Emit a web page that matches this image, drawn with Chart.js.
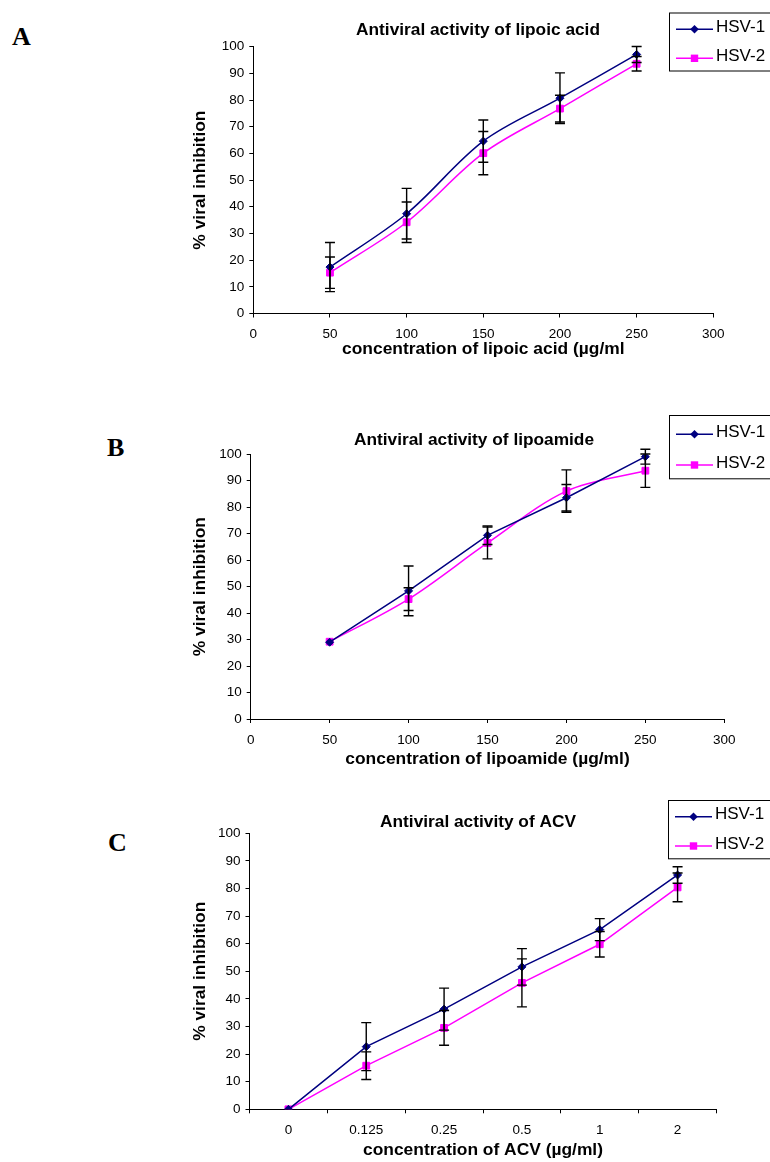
<!DOCTYPE html>
<html>
<head>
<meta charset="utf-8">
<script src="https://cdn.jsdelivr.net/npm/chart.js@4.4.1/dist/chart.umd.min.js"></script>
<style>
  html, body { margin: 0; padding: 0; background: #fff; }
  #wrap { position: relative; width: 770px; height: 1162px; overflow: hidden; background: #fff; }
  canvas { position: absolute; left: 0; }
  .letter { position: absolute; font-family: "Liberation Serif", "Times New Roman", serif; font-weight: bold; font-size: 26px; line-height: 1; color: #000; }
</style>
</head>
<body>
<div id="wrap">
  <div class="letter" style="left:12px; top:24px;">A</div>
  <div class="letter" style="left:107px; top:435px;">B</div>
  <div class="letter" style="left:108px; top:830px;">C</div>
  <canvas id="cA" width="770" height="390" style="top:0px"></canvas>
  <canvas id="cB" width="770" height="390" style="top:390px"></canvas>
  <canvas id="cC" width="770" height="382" style="top:780px"></canvas>
</div>
<script>
// ---------- DATA ----------
const seriesNames = ['HSV-1', 'HSV-2'];

// Panel A: lipoic acid
const concA = [50, 100, 150, 200, 250];
const hsv1A = [17.4, 37.4, 64.6, 80.7, 97.1];
const err1A = [9.2, 9.5, 7.9, 9.5, 3.0];
const hsv2A = [15.3, 34.2, 60.1, 76.8, 93.6];
const err2A = [5.9, 7.6, 8.1, 5.0, 2.7];

// Panel B: lipoamide
const concB = [50, 100, 150, 200, 250];
const hsv1B = [29.0, 48.4, 69.4, 83.6, 99.1];
const err1B = [0, 9.4, 3.5, 5.0, 2.8];
const hsv2B = [29.2, 45.3, 66.5, 86.1, 93.8];
const err2B = [0, 4.3, 6.0, 8.0, 6.3];

// Panel C: ACV (categorical)
const concC = ['0', '0.125', '0.25', '0.5', '1', '2'];
const hsv1C = [0, 22.7, 36.3, 51.6, 65.1, 84.9];
const err1C = [0, 8.7, 7.6, 6.6, 4.0, 3.0];
const hsv2C = [0, 15.8, 29.5, 45.8, 59.8, 80.4];
const err2C = [0, 5.0, 6.3, 8.7, 4.6, 5.2];

const titles = ['Antiviral activity of lipoic acid', 'Antiviral activity of lipoamide', 'Antiviral activity of ACV'];
const xTitles = ['concentration of lipoic acid (\u00b5g/ml', 'concentration of lipoamide (\u00b5g/ml)', 'concentration of ACV (\u00b5g/ml)'];
const yTitle = '% viral inhibition';

// ---------- STYLE ----------
const FONT = '"Liberation Sans", Arial, Helvetica, sans-serif';
const NAVY = '#000080';
const MAGENTA = '#FF00FF';
const TICK_SIZE = 13.5;
const AXIS_TITLE_SIZE = 17.4;
const TITLE_SIZE = 17.3;

function xy(xs, ys) { return xs.map((x, i) => ({ x: x, y: ys[i] })); }

const errorBarPlugin = {
  id: 'errorBars',
  afterDatasetsDraw(chart) {
    const ctx = chart.ctx;
    const ys = chart.scales.y;
    ctx.save();
    ctx.strokeStyle = '#000';
    ctx.lineWidth = 1.4;
    chart.data.datasets.forEach((ds, di) => {
      const meta = chart.getDatasetMeta(di);
      if (!ds.errorBars) return;
      meta.data.forEach((pt, i) => {
        const e = ds.errorBars[i];
        if (!e) return;
        const v = ds.data[i] && typeof ds.data[i] === 'object' ? ds.data[i].y : ds.data[i];
        const yt = ys.getPixelForValue(v + e);
        const yb = ys.getPixelForValue(v - e);
        const x = pt.x;
        const cw = 5;
        ctx.beginPath();
        ctx.moveTo(x, yt); ctx.lineTo(x, yb);
        ctx.moveTo(x - cw, yt); ctx.lineTo(x + cw, yt);
        ctx.moveTo(x - cw, yb); ctx.lineTo(x + cw, yb);
        ctx.stroke();
      });
    });
    ctx.restore();
  }
};

const panelTextPlugin = {
  id: 'panelText',
  afterDraw(chart, args, opts) {
    const ctx = chart.ctx;
    ctx.save();
    // title
    ctx.fillStyle = '#000';
    ctx.font = 'bold ' + TITLE_SIZE + 'px ' + FONT;
    ctx.textAlign = 'center';
    ctx.textBaseline = 'middle';
    ctx.fillText(opts.title, opts.titleX, opts.titleY);
    // legend box
    const L = opts.legend;
    ctx.strokeStyle = '#000';
    ctx.lineWidth = 1;
    ctx.strokeRect(L.left + 0.5, L.top + 0.5, 200, L.bottom - L.top);
    chart.data.datasets.forEach((ds, i) => {
      const y = L.rows[i];
      ctx.strokeStyle = ds.borderColor;
      ctx.lineWidth = 1.5;
      ctx.beginPath();
      ctx.moveTo(L.left + 7, y); ctx.lineTo(L.left + 44, y);
      ctx.stroke();
      const cx = L.left + 25.5;
      ctx.fillStyle = ds.borderColor;
      ctx.beginPath();
      if (ds.pointStyle === 'rectRot') {
        const r = 4.3;
        ctx.moveTo(cx, y - r); ctx.lineTo(cx + r, y); ctx.lineTo(cx, y + r); ctx.lineTo(cx - r, y);
        ctx.closePath();
      } else {
        ctx.rect(cx - 3.7, y - 3.7, 7.4, 7.4);
      }
      ctx.fill();
      ctx.fillStyle = '#000';
      ctx.font = '17px ' + FONT;
      ctx.textAlign = 'left';
      ctx.textBaseline = 'middle';
      ctx.fillText(seriesNames[i], L.left + 47, y - 2);
    });
    ctx.restore();
  }
};

function makeChart(id, cfg) {
  const isCat = cfg.type === 'category';
  const d1 = isCat ? cfg.y1 : xy(cfg.x, cfg.y1);
  const d2 = isCat ? cfg.y2 : xy(cfg.x, cfg.y2);
  const common = {
    border: { display: true, color: '#000', width: 1 },
    title: { display: true, text: cfg.xTitle, color: '#000', font: { family: FONT, size: AXIS_TITLE_SIZE, weight: 'bold' }, padding: 0 },
    afterFit: s => { s.height = cfg.xH; }
  };
  const xScale = isCat ? Object.assign({
    type: 'category',
    offset: true,
    grid: { offset: true, drawOnChartArea: false, drawTicks: true, tickLength: 4, color: '#000', lineWidth: 1 },
    ticks: { color: '#000', font: { family: FONT, size: TICK_SIZE }, padding: 9, maxRotation: 0, autoSkip: false }
  }, common) : Object.assign({
    type: 'linear',
    min: 0, max: 300,
    grid: { drawOnChartArea: false, drawTicks: true, tickLength: 4, color: '#000', lineWidth: 1 },
    ticks: { stepSize: 50, color: '#000', font: { family: FONT, size: TICK_SIZE }, padding: 9, maxRotation: 0 }
  }, common);
  return new Chart(document.getElementById(id), {
    type: 'line',
    data: {
      labels: isCat ? cfg.x : undefined,
      datasets: [
        { label: seriesNames[0], data: d1, errorBars: cfg.e1, borderColor: NAVY, backgroundColor: NAVY,
          borderWidth: 1.5, pointStyle: 'rectRot', pointRadius: 4, pointBorderWidth: 1,
          tension: cfg.t1, fill: false },
        { label: seriesNames[1], data: d2, errorBars: cfg.e2, borderColor: MAGENTA, backgroundColor: MAGENTA,
          borderWidth: 1.5, pointStyle: 'rect', pointRadius: 4.8, pointBorderWidth: 1,
          tension: cfg.t2, fill: false }
      ]
    },
    options: {
      responsive: false,
      animation: false,
      events: [],
      layout: { padding: cfg.pad },
      scales: {
        x: xScale,
        y: {
          type: 'linear', min: 0, max: 100,
          grid: { drawOnChartArea: false, drawTicks: true, tickLength: 4, color: '#000', lineWidth: 1 },
          border: { display: true, color: '#000', width: 1 },
          ticks: { stepSize: 10, color: '#000', font: { family: FONT, size: TICK_SIZE }, padding: 5 },
          title: { display: true, text: yTitle, color: '#000', font: { family: FONT, size: AXIS_TITLE_SIZE, weight: 'bold' }, padding: 0 },
          afterFit: s => { s.width = cfg.yW; }
        }
      },
      plugins: {
        legend: { display: false },
        title: { display: false },
        tooltip: { enabled: false },
        panelText: cfg.text
      }
    },
    plugins: [errorBarPlugin, panelTextPlugin]
  });
}

makeChart('cA', {
  type: 'linear', x: concA, y1: hsv1A, y2: hsv2A, e1: err1A, e2: err2A, t1: 0.33, t2: 0.33,
  xTitle: xTitles[0], xH: 46, yW: 63.8,
  pad: { top: 46.7, left: 189.5, right: 56.7, bottom: 30.5 },
  text: { title: titles[0], titleX: 478, titleY: 30,
          legend: { left: 669, top: 12.5, bottom: 70.5, rows: [29.3, 58.3] } }
});

makeChart('cB', {
  type: 'linear', x: concB, y1: hsv1B, y2: hsv2B, e1: err1B, e2: err2B, t1: 0, t2: 0.33,
  xTitle: xTitles[1], xH: 50.5, yW: 61.2,
  pad: { top: 64.3, left: 189.5, right: 45.7, bottom: 10.5 },
  text: { title: titles[1], titleX: 474, titleY: 50,
          legend: { left: 669, top: 25, bottom: 88.3, rows: [44.3, 75] } }
});

makeChart('cC', {
  type: 'category', x: concC, y1: hsv1C, y2: hsv2C, e1: err1C, e2: err2C, t1: 0, t2: 0,
  xTitle: xTitles[2], xH: 51.2, yW: 60,
  pad: { top: 53.3, left: 189.5, right: 53.5, bottom: 1.5 },
  text: { title: titles[2], titleX: 478, titleY: 42,
          legend: { left: 668, top: 20, bottom: 78.3, rows: [36.7, 66] } }
});
</script>
</body>
</html>
